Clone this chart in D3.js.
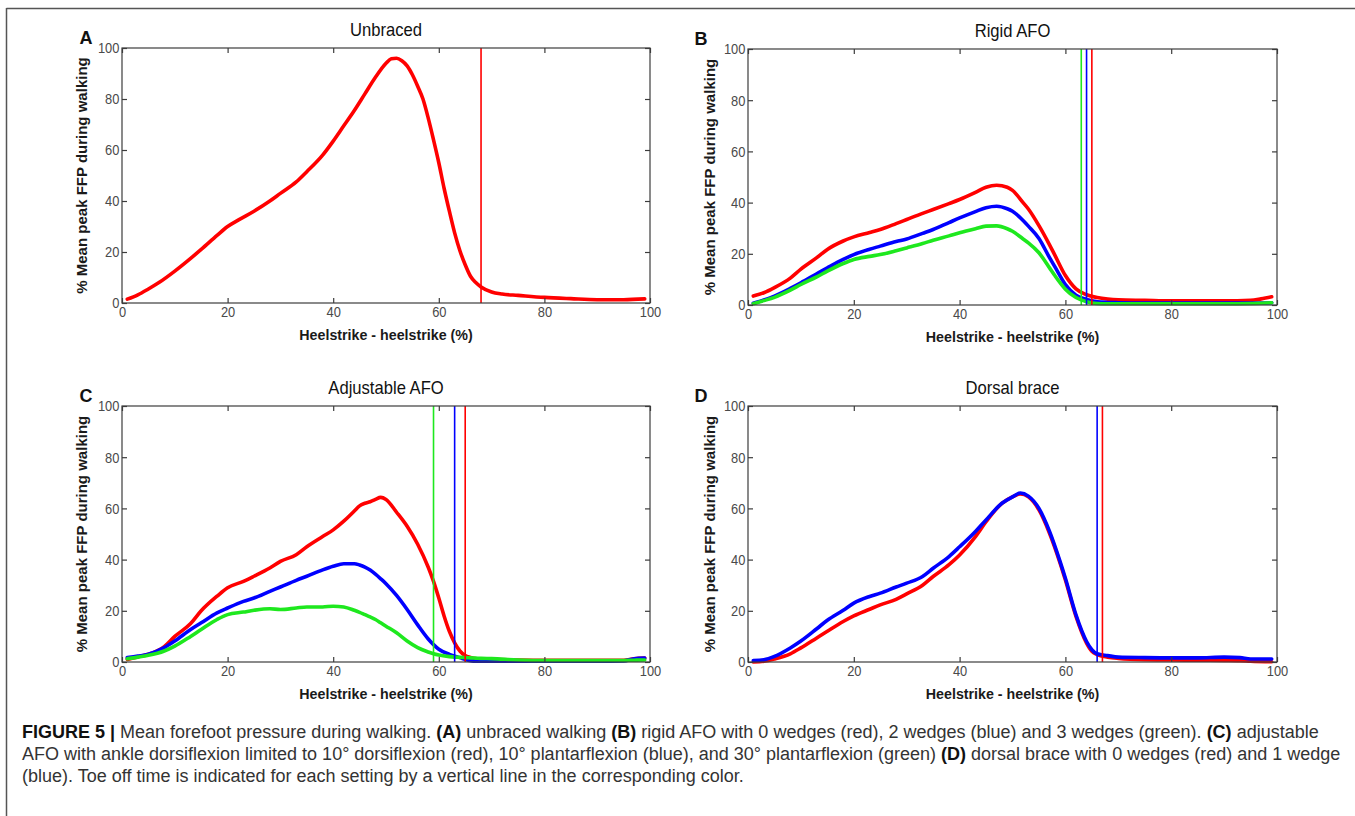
<!DOCTYPE html>
<html><head><meta charset="utf-8">
<script src="https://cdn.jsdelivr.net/npm/d3@7"></script>
<style>
body{margin:0;background:#fff}
svg{display:block}
text{white-space:pre}
</style></head>
<body>
<svg id="c" width="1355" height="816"></svg>
<script>
// ---------------- DATA ----------------
const xTicks = [0, 20, 40, 60, 80, 100];
const yTicks = [0, 20, 40, 60, 80, 100];
const panelTitles = ["Unbraced", "Rigid AFO", "Adjustable AFO", "Dorsal brace"];
const panelLetters = ["A", "B", "C", "D"];
const xLabel = "Heelstrike - heelstrike (%)";
const yLabel = "% Mean peak FFP during walking";

// Panel A: unbraced
const unbracedRed = [[1,1.5],[3,3.2],[5,5.5],[7,8],[10,12.5],[13,17.5],[15,21],[18,26.5],[20,30],[22,32.5],[25,36],[28,40],[30,43],[33,47.5],[35,51.5],[38,58],[40,63.5],[42,69.5],[44,75.5],[46,82],[48,88.5],[50,94],[51,95.8],[52,96],[53,95],[54,93],[55,89.5],[56,85],[57,80],[58,72.5],[59,64],[60,55],[61,45],[62,36],[63,27.5],[64,20.5],[65,15],[66,10.5],[67,8],[68,6.3],[70,4.3],[72,3.5],[75,3],[80,2.2],[85,1.7],[90,1.3],[95,1.3],[99,1.6]];
const unbracedToeOff = [68];

// Panel B: rigid AFO (0 wedges red, 2 wedges blue, 3 wedges green)
const rigidRed = [[1,3.5],[3,4.8],[5,6.8],[8,10.5],[10,14],[13,18.5],[15,21.7],[18,25],[20,26.6],[23,28.3],[25,29.5],[28,31.8],[30,33.4],[33,35.8],[35,37.3],[38,39.6],[40,41.2],[43,44],[45,46],[47,46.8],[49,46],[50,44.8],[52,40],[53,37.5],[55,31],[57,23.5],[58,19.5],[60,11.5],[62,6.3],[64,4],[66,2.9],[68,2.3],[70,2],[75,1.8],[80,1.6],[85,1.6],[90,1.6],[95,1.8],[97,2.4],[99,3.2]];
const rigidBlue = [[1,0.7],[3,2],[5,3.5],[8,6.5],[10,8.7],[13,12.2],[15,14.5],[18,17.8],[20,19.7],[23,21.8],[25,23],[28,24.8],[30,25.8],[33,28],[35,29.5],[38,32.2],[40,34],[43,36.5],[45,38],[47,38.6],[49,37.6],[50,36.6],[52,33],[53,30.8],[55,26],[57,18.5],[58,15],[60,8],[62,3.8],[64,2.2],[66,1.3],[68,1],[70,0.9],[75,0.8],[80,0.8],[85,0.8],[90,0.8],[95,0.8],[97,0.8],[99,0.9]];
const rigidGreen = [[1,0.5],[3,1.7],[5,3],[8,5.8],[10,8],[13,11],[15,13.2],[18,16.2],[20,17.8],[23,19],[25,19.7],[28,21.2],[30,22.3],[33,24],[35,25.3],[38,27],[40,28.2],[43,29.8],[45,30.8],[47,30.9],[49,29.8],[50,28.8],[52,25.8],[53,24.3],[55,20.4],[57,14.5],[58,11.5],[60,6.2],[62,2.9],[64,1.3],[66,0.6],[68,0.5],[70,0.5],[75,0.5],[80,0.5],[85,0.5],[90,0.5],[95,0.6],[97,0.7],[99,0.9]];
const rigidToeOff = [65, 64, 63]; // red, blue, green

// Panel C: adjustable AFO (10° DF red, 10° PF blue, 30° PF green)
const adjRed = [[1,1],[3,2],[5,3],[8,6],[10,10],[13,15],[15,20],[18,25.7],[20,29],[23,31.5],[25,33.5],[28,36.7],[30,39.3],[33,41.9],[35,45],[38,49],[40,51.6],[42,55],[44,59],[45,61],[46,62],[47,62.6],[48,63.5],[49,64.3],[50,63.5],[52,58.5],[54,53],[56,46],[58,37],[59,31.5],[60,25],[61,18],[62,12],[63,7.5],[64,4.3],[65,2.5],[66,1.8],[67,1.3],[68,1.1],[70,1],[75,0.8],[80,0.7],[85,0.7],[90,0.7],[95,0.7],[97,1.3],[99,1.5]];
const adjBlue = [[1,1.7],[3,2.3],[5,3],[8,5.6],[10,8.2],[13,12.7],[15,15.3],[18,19.2],[20,21.1],[23,23.7],[25,25],[28,27.6],[30,29.3],[33,31.9],[35,33.5],[38,36],[40,37.4],[42,38.4],[44,38.4],[45,37.9],[46,37.1],[47,35.9],[48,34.3],[49,32.5],[50,30.6],[52,26],[54,20.5],[56,14.5],[58,9],[59,6.8],[60,5],[62,3],[63,2.3],[64,1.7],[65,1],[66,0.5],[67,0.3],[68,0.3],[70,0.3],[75,0.3],[80,0.3],[85,0.3],[90,0.3],[95,0.4],[97,1.3],[99,1.5]];
const adjGreen = [[1,1.3],[3,1.9],[5,2.6],[8,4.3],[10,6.2],[13,10],[15,12.7],[18,16.6],[20,18.5],[23,19.5],[25,20.2],[28,20.8],[30,20.5],[33,21.1],[35,21.5],[38,21.5],[40,21.8],[42,21.5],[44,20.2],[45,19.4],[46,18.5],[47,17.6],[48,16.6],[49,15.3],[50,14],[52,11.4],[54,8.2],[56,5.6],[58,3.9],[59,3.2],[60,2.7],[62,2.1],[63,1.9],[64,1.8],[65,1.7],[66,1.6],[67,1.5],[68,1.4],[70,1.3],[75,0.8],[80,0.6],[85,0.6],[90,0.6],[95,0.6],[97,0.7],[99,0.8]];
const adjToeOff = [65, 63, 59]; // red, blue, green

// Panel D: dorsal brace (0 wedges red, 1 wedge blue)
const dorsalRed = [[1,0],[3,0.3],[5,1.2],[8,3.2],[10,5.5],[13,9.4],[15,12],[18,15.8],[20,18],[23,20.6],[25,22.3],[28,24.5],[30,26.6],[33,30],[35,33.4],[38,38],[40,41.8],[43,49],[45,54.8],[48,62],[50,64.5],[51.5,65.6],[53,64.5],[55,59.4],[57,50.3],[59,38.6],[60,32],[62,17.8],[64,7.4],[65,4.2],[66,2.9],[68,1.9],[70,1.4],[75,0.9],[80,0.8],[85,0.7],[90,0.6],[93,0.5],[95,0.3],[99,0.1]];
const dorsalBlue = [[1,0.6],[3,0.9],[5,2.2],[8,5.5],[10,8.2],[13,13],[15,16.3],[18,20.2],[20,23],[23,25.6],[25,26.9],[28,29.3],[30,30.8],[33,33.4],[35,36.6],[38,41.2],[40,45],[43,51],[45,55.5],[48,62],[50,64.5],[51.5,66],[53,64.8],[55,60],[57,51],[59,39.2],[60,32.7],[62,18.4],[64,8],[65,4.8],[66,3.2],[68,2.5],[70,1.9],[75,1.7],[80,1.6],[85,1.6],[90,1.9],[93,1.7],[95,1.2],[99,1.2]];
const dorsalToeOff = [67, 66]; // red, blue

const captionLines = [
  [["FIGURE 5 |",1],[" Mean forefoot pressure during walking. ",0],["(A)",1],[" unbraced walking ",0],["(B)",1],[" rigid AFO with 0 wedges (red), 2 wedges (blue) and 3 wedges (green). ",0],["(C)",1],[" adjustable",0]],
  [["AFO with ankle dorsiflexion limited to 10° dorsiflexion (red), 10° plantarflexion (blue), and 30° plantarflexion (green) ",0],["(D)",1],[" dorsal brace with 0 wedges (red) and 1 wedge",0]],
  [["(blue). Toe off time is indicated for each setting by a vertical line in the corresponding color.",0]]
];

// ---------------- STYLE / LAYOUT ----------------
const RED = "#ff0000", BLUE = "#0000ff", GREEN = "#1ee81e";
const AX = "#3c3c3c";
const FONT = "'Liberation Sans', Arial, Helvetica, sans-serif";

const panels = [
  {left:122, right:650, top:48, bottom:303, yl:82, lx:86,
   series:[[unbracedRed,RED]], toe:[[unbracedToeOff[0],RED]]},
  {left:748, right:1277, top:49, bottom:305, yl:710, lx:701,
   series:[[rigidRed,RED],[rigidBlue,BLUE],[rigidGreen,GREEN]],
   toe:[[rigidToeOff[0],RED],[rigidToeOff[1],BLUE],[rigidToeOff[2],GREEN]]},
  {left:122, right:650, top:406, bottom:662, yl:82, lx:86,
   series:[[adjRed,RED],[adjBlue,BLUE],[adjGreen,GREEN]],
   toe:[[adjToeOff[0],RED],[adjToeOff[1],BLUE],[adjToeOff[2],GREEN]]},
  {left:748, right:1277, top:406, bottom:662, yl:710, lx:701,
   series:[[dorsalRed,RED],[dorsalBlue,BLUE]],
   toe:[[dorsalToeOff[0],RED],[dorsalToeOff[1],BLUE]]}
];

const svg = d3.select("#c");
svg.append("rect").attr("width",1355).attr("height",816).attr("fill","#fff");

// frame lines
svg.append("line").attr("x1",6.5).attr("x2",1355).attr("y1",8.5).attr("y2",8.5)
  .attr("stroke","#555").attr("stroke-width",1.5);
svg.append("line").attr("x1",6.5).attr("x2",6.5).attr("y1",8).attr("y2",816)
  .attr("stroke","#555").attr("stroke-width",1.5);

panels.forEach((p, i) => {
  const x = d3.scaleLinear().domain([0,100]).range([p.left,p.right]);
  const y = d3.scaleLinear().domain([0,100]).range([p.bottom,p.top]);
  const g = svg.append("g");

  const line = d3.line().x(d => x(d[0])).y(d => y(d[1])).curve(d3.curveMonotoneX);
  p.series.forEach(([data, color]) => {
    g.append("path").datum(data).attr("d", line)
      .attr("fill","none").attr("stroke",color).attr("stroke-width",3.6)
      .attr("stroke-linejoin","round").attr("stroke-linecap","round");
  });
  p.toe.forEach(([v, color]) => {
    g.append("line").attr("x1",x(v)).attr("x2",x(v)).attr("y1",y(0)).attr("y2",y(100))
      .attr("stroke",color).attr("stroke-width",1.6);
  });

  g.append("rect").attr("x",p.left).attr("y",p.top)
    .attr("width",p.right-p.left).attr("height",p.bottom-p.top)
    .attr("fill","none").attr("stroke",AX).attr("stroke-width",1.2);

  const styleAxis = sel => {
    sel.select(".domain").remove();
    sel.selectAll(".tick line").attr("stroke",AX).attr("stroke-width",1.2);
    sel.selectAll(".tick text").attr("fill","#4a4a4a").style("font-family",FONT)
      .style("font-size","15px").attr("transform","scale(0.86,1)");
  };
  g.append("g").attr("transform",`translate(0,${p.bottom})`)
    .call(d3.axisBottom(x).tickValues(xTicks).tickSize(-5).tickPadding(3).tickFormat(d3.format("d")))
    .call(styleAxis);
  g.append("g").attr("transform",`translate(0,${p.top})`)
    .call(d3.axisTop(x).tickValues(xTicks).tickSize(-5).tickFormat(""))
    .call(styleAxis);
  g.append("g").attr("transform",`translate(${p.left},0)`)
    .call(d3.axisLeft(y).tickValues(yTicks).tickSize(-5).tickPadding(3).tickFormat(d3.format("d")))
    .call(styleAxis);
  g.append("g").attr("transform",`translate(${p.right},0)`)
    .call(d3.axisRight(y).tickValues(yTicks).tickSize(-5).tickFormat(""))
    .call(styleAxis);

  const cx = (p.left + p.right) / 2;
  g.append("text").attr("transform",`translate(${cx},${p.top-12}) scale(0.95,1)`).attr("text-anchor","middle")
    .style("font-family",FONT).style("font-size","17.5px").attr("fill","#111")
    .text(panelTitles[i]);
  g.append("text").attr("x",p.lx).attr("y",p.top-4).attr("text-anchor","middle")
    .style("font-family",FONT).style("font-size","18px").style("font-weight","bold").attr("fill","#111")
    .text(panelLetters[i]);
  g.append("text").attr("transform",`translate(${cx},${p.bottom+37}) scale(0.92,1)`)
    .attr("text-anchor","middle")
    .style("font-family",FONT).style("font-size","15.5px").style("font-weight","bold").attr("fill","#1a1a1a")
    .text(xLabel);
  g.append("text").attr("transform",`translate(${p.yl},${(p.top+p.bottom)/2}) rotate(-90)`)
    .attr("text-anchor","middle").attr("dy","0.35em")
    .style("font-family",FONT).style("font-size","15px").style("font-weight","bold").attr("fill","#1a1a1a")
    .text(yLabel);
});

// caption
const capY = [738, 760, 782];
const capG = svg.append("g");
const capTexts = captionLines.map((segs, li) => {
  const t = capG.append("text").attr("x",22).attr("y",capY[li])
    .style("font-family",FONT).style("font-size","16px").attr("fill","#2b2b2b");
  segs.forEach(([s, b]) => {
    t.append("tspan").style("font-weight", b ? "bold" : "normal").attr("fill", b ? "#111" : "#333").text(s);
  });
  return t;
});
const w0 = capTexts[0].node().getComputedTextLength();
const fs = 16 * 1297 / w0;
capTexts.forEach(t => t.style("font-size", fs + "px"));
</script>
</body></html>
